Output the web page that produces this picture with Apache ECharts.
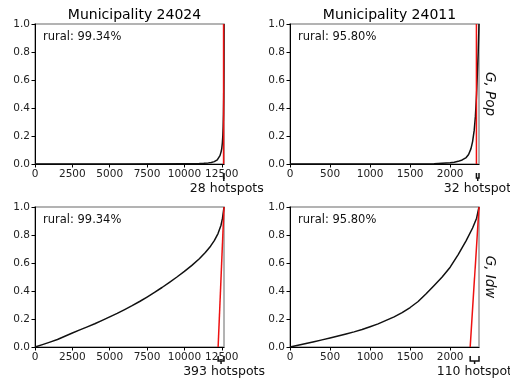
<!DOCTYPE html>
<html><head><meta charset="utf-8">
<script src="https://cdn.jsdelivr.net/npm/echarts@6/dist/echarts.min.js"></script>
<style>html,body{margin:0;padding:0;background:#fff}#c{width:510px;height:381px}</style>
</head><body><div id="c"></div>
<script>
// ---- data ----
const titles = ['Municipality 24024', 'Municipality 24011'];
const ruralLabels = ['rural: 99.34%', 'rural: 95.80%'];
const rowLabels = ['G, Pop', 'G, Idw'];
const totals = [12650, 2360];
const popHotspots = [28, 32];
const idwHotspots = [393, 110];
const xTicksA = [0, 2500, 5000, 7500, 10000, 12500];
const xTicksB = [0, 500, 1000, 1500, 2000];
const yTicks = [0, 0.2, 0.4, 0.6, 0.8, 1.0];

// Municipality 24024, population-based curve
const popX1 = [0, 6000, 10000, 10500, 11000, 11300, 11600, 11800, 12000, 12100, 12200, 12300, 12380, 12450, 12500, 12540, 12570, 12595, 12615, 12630, 12642, 12650];
const popY1 = [0, 0, 0.001, 0.0015, 0.003, 0.005, 0.008, 0.011, 0.017, 0.022, 0.03, 0.043, 0.06, 0.085, 0.11, 0.15, 0.2, 0.27, 0.36, 0.48, 0.68, 1.0];
// Municipality 24011, population-based curve
const popX2 = [0, 1500, 1800, 1900, 2000, 2050, 2100, 2150, 2200, 2230, 2260, 2280, 2300, 2315, 2330, 2340, 2350, 2360];
const popY2 = [0, 0, 0.002, 0.005, 0.009, 0.013, 0.019, 0.029, 0.046, 0.068, 0.11, 0.16, 0.24, 0.34, 0.5, 0.65, 0.8, 1.0];
// Municipality 24024, idw curve
const idwX1 = [0, 500, 1000, 1500, 2000, 2500, 3000, 3500, 4000, 4500, 5000, 5500, 6000, 6500, 7000, 7500, 8000, 8500, 9000, 9500, 10000, 10500, 11000, 11400, 11750, 12000, 12250, 12450, 12550, 12650];
const idwY1 = [0, 0.017, 0.035, 0.054, 0.077, 0.1, 0.122, 0.144, 0.166, 0.19, 0.215, 0.24, 0.267, 0.295, 0.325, 0.357, 0.39, 0.425, 0.462, 0.5, 0.54, 0.583, 0.63, 0.675, 0.72, 0.76, 0.81, 0.87, 0.92, 1.0];
// Municipality 24011, idw curve
const idwX2 = [0, 100, 200, 300, 400, 500, 600, 700, 800, 900, 1000, 1100, 1200, 1300, 1400, 1500, 1600, 1700, 1800, 1900, 2000, 2100, 2200, 2280, 2330, 2360];
const idwY2 = [0, 0.012, 0.025, 0.038, 0.051, 0.064, 0.078, 0.093, 0.108, 0.125, 0.145, 0.165, 0.19, 0.215, 0.245, 0.282, 0.325, 0.38, 0.44, 0.5, 0.57, 0.66, 0.76, 0.85, 0.92, 1.0];

// ---- chart ----
const FONT = 'DejaVu Sans';
const chart = echarts.init(document.getElementById('c'), null, {renderer: 'canvas'});
const pos = [{left: 35, top: 24}, {left: 290, top: 24}, {left: 35, top: 207}, {left: 290, top: 207}];
const W = 189, H = 140;
const curvesX = [popX1, popX2, idwX1, idwX2];
const curvesY = [popY1, popY2, idwY1, idwY2];
const hotspots = [popHotspots[0], popHotspots[1], idwHotspots[0], idwHotspots[1]];
const grids = [], xAxes = [], yAxes = [], series = [];
for (let i = 0; i < 4; i++) {
  const col = i % 2, row = Math.floor(i / 2);
  const N = totals[col];
  const xt = col === 0 ? xTicksA : xTicksB;
  grids.push({left: pos[i].left, top: pos[i].top, width: W, height: H, show: true,
    borderColor: '#9a9a9a', borderWidth: 1.5, backgroundColor: 'transparent'});
  xAxes.push({type: 'value', gridIndex: i, min: 0, max: N,
    axisLine: {show: true, onZero: false, lineStyle: {color: '#000', width: 1}},
    splitLine: {show: false},
    axisTick: {show: true, length: 3.5, customValues: xt, lineStyle: {color: '#000'}},
    axisLabel: {customValues: xt, fontSize: 10.5, color: '#222', fontFamily: FONT, margin: 5, formatter: v => String(v)}});
  yAxes.push({type: 'value', gridIndex: i, min: 0, max: 1, interval: 0.2,
    axisLine: {show: true, lineStyle: {color: '#000', width: 1}},
    splitLine: {show: false},
    axisTick: {show: true, length: 3.5, lineStyle: {color: '#000'}},
    axisLabel: {fontSize: 10.5, color: '#222', fontFamily: FONT, margin: 5, formatter: v => v.toFixed(1)}});
  series.push({type: 'line', xAxisIndex: i, yAxisIndex: i, showSymbol: false, symbol: 'none',
    smooth: false, z: 3,
    lineStyle: {color: '#111', width: 1.5, join: 'round'},
    data: curvesX[i].map((x, k) => [x, curvesY[i][k]])});
  const h = hotspots[i];
  const redData = row === 0 ? [[N - h, 0], [N - h, 1]] : [[N - h, 0], [N, 1]];
  series.push({type: 'line', xAxisIndex: i, yAxisIndex: i, showSymbol: false, symbol: 'none', z: 4,
    lineStyle: {color: '#ee1111', width: 1.5}, data: redData});
}
const titleComps = titles.map((t, c) => ({text: t, left: pos[c].left + W / 2, top: 3, textAlign: 'center',
  textStyle: {fontFamily: FONT, fontSize: 14, fontWeight: 'normal', color: '#000'}}));

chart.setOption({animation: false, backgroundColor: '#fff', title: titleComps,
  grid: grids, xAxis: xAxes, yAxis: yAxes, series: series});

// annotations placed through the axes' own scales
const gfx = [];
for (let i = 0; i < 4; i++) {
  const col = i % 2, row = Math.floor(i / 2);
  const N = totals[col], h = hotspots[i];
  const p0 = chart.convertToPixel({gridIndex: i}, [N - h, 0]);
  const p1 = chart.convertToPixel({gridIndex: i}, [N, 0]);
  const yb = p0[1];
  const cx = (p0[0] + p1[0]) / 2;
  gfx.push({type: 'text', left: pos[i].left + 8, top: pos[i].top + 7,
    style: {text: ruralLabels[col], fontSize: 11.5, fontFamily: FONT, fill: '#111'}});
  // bracket
  gfx.push({type: 'polyline', shape: {points: [[p0[0], yb + 9], [p0[0], yb + 14], [p1[0], yb + 14], [p1[0], yb + 9]]},
    style: {stroke: '#111', lineWidth: 1.5, fill: null}});
  gfx.push({type: 'line', shape: {x1: cx, y1: yb + 14, x2: cx, y2: yb + 17}, style: {stroke: '#111', lineWidth: 1.5}});
  gfx.push({type: 'text', x: cx + 3, y: yb + 25,
    style: {text: h + ' hotspots', fontSize: 12.5, fontFamily: FONT, fill: '#111', align: 'center', verticalAlign: 'middle'}});
  if (col === 1) {
    gfx.push({type: 'text', x: 489, y: pos[i].top + H / 2, rotation: -Math.PI / 2,
      style: {text: rowLabels[row], fontSize: 13.5, fontStyle: 'italic', fontFamily: FONT, fill: '#111',
        align: 'center', verticalAlign: 'middle'}});
  }
}
chart.setOption({graphic: gfx});
</script>
</body></html>
